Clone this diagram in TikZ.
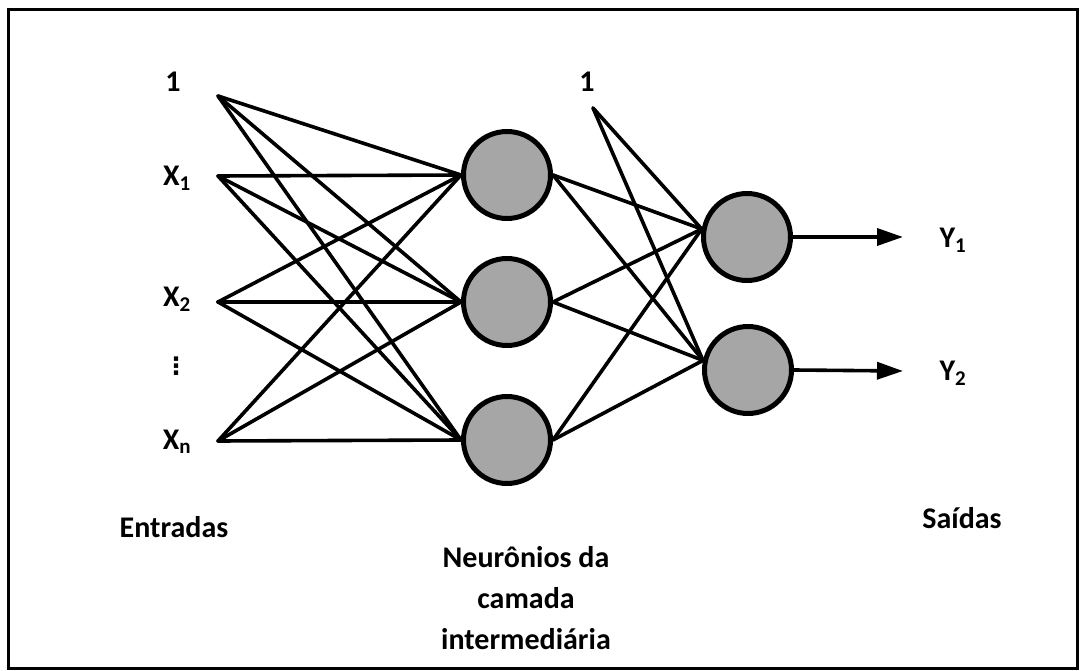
\documentclass[tikz,border=0pt]{standalone}
\usepackage{fontspec}
\setmainfont{Carlito}
\newfontfamily\dejavu{DejaVu Sans}
\usetikzlibrary{arrows.meta}
\definecolor{neurongray}{HTML}{A6A6A6}
\begin{document}
\begin{tikzpicture}[x=1pt,y=-1pt,
  neuron/.style={circle,draw=black,line width=5pt,fill=neurongray,minimum size=87pt,inner sep=0pt},
  conn/.style={line width=3.6pt,line cap=round},
  outarrow/.style={line width=3.6pt,-{Triangle[length=26pt,width=17pt]}},
  lbl/.style={font=\bfseries\fontsize{30}{41}\selectfont,inner sep=0pt,align=center}]
\useasboundingbox (0,0) rectangle (1080,671);
\draw[line width=3pt] (8,10) rectangle (1077,668);
% input points
\coordinate (i0) at (218,96);
\coordinate (i1) at (218,176);
\coordinate (i2) at (218,302);
\coordinate (in) at (218,441);
\coordinate (b) at (593,108);
% input labels
\node[lbl] (l0) at (173,82) {1};
\node[lbl] (l1) at (177,178) {X\textsubscript{1}};
\node[lbl] (l2) at (177,299) {X\textsubscript{2}};
\node[lbl] (ld) at (176,366) {\dejavu\fontsize{24}{28}\selectfont ⋮};
\node[lbl] (ln) at (177,442) {X\textsubscript{n}};
\node[lbl] (lb) at (587,82) {1};
% neurons
\node[neuron] (h1) at (507,175) {};
\node[neuron] (h2) at (507,302) {};
\node[neuron] (h3) at (507,440) {};
\node[neuron] (o1) at (747,237) {};
\node[neuron] (o2) at (748,370) {};
% connections input -> hidden
\foreach \i in {i0,i1,i2,in}{
  \foreach \h in {h1,h2,h3}{
    \draw[conn] (\i) -- (\h.west);
  }
}
% hidden -> output
\foreach \h in {h1,h2,h3}{
  \draw[conn] (\h.east) -- (o1.170);
  \draw[conn] (\h.east) -- (o2.168);
}
\draw[conn] (b) -- (o1.170);
\draw[conn] (b) -- (o2.168);
% outputs
\coordinate (y1) at (903,237);
\coordinate (y2) at (903,371);
\draw[outarrow] (o1.east) -- (y1);
\draw[outarrow] (o2.east) -- (y2);
\node[lbl] (ly1) at (953,240) {Y\textsubscript{1}};
\node[lbl] (ly2) at (953,373) {Y\textsubscript{2}};
% captions
\node[lbl] (ent) at (174,527) {Entradas};
\node[lbl] (hid) at (526,598) {Neurônios da\\camada\\intermediária};
\node[lbl] (sai) at (962,518) {Saídas};
\end{tikzpicture}
\end{document}
